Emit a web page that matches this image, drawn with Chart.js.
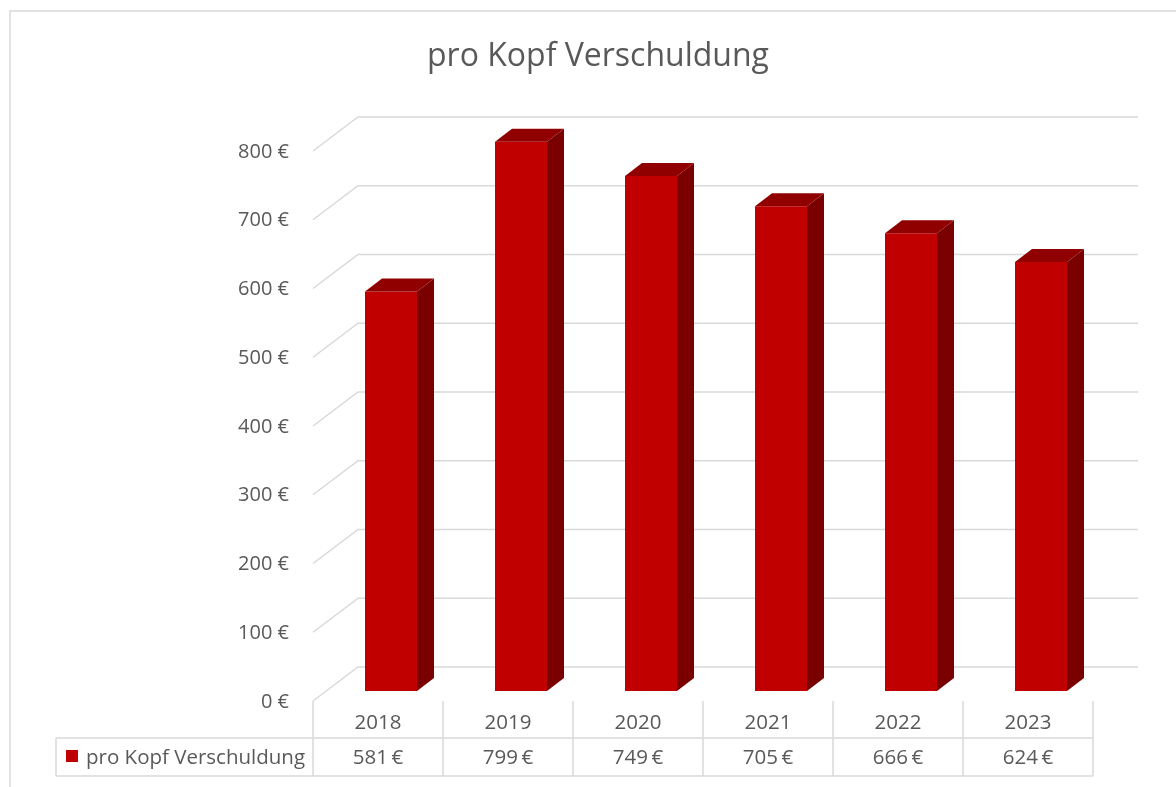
<!DOCTYPE html>
<html>
<head>
<meta charset="utf-8">
<script src="https://cdn.jsdelivr.net/npm/chart.js@4/dist/chart.umd.min.js"></script>
<style>
  html, body { margin: 0; padding: 0; background: #fff; }
  canvas { display: block; }
</style>
</head>
<body>
<canvas id="chart" width="1176" height="787"></canvas>
<script>
const title = 'pro Kopf Verschuldung'
const seriesName = 'pro Kopf Verschuldung'
const years = ['2018', '2019', '2020', '2021', '2022', '2023']
const debtPerHead = [581, 799, 749, 705, 666, 624]
const yMax = 800
const yStep = 100

const TEXT = '#595959'
const GRID = '#d9d9d9'
const FONT = '"Open Sans", Lato, sans-serif'

// 3d offsets relative to the bar front plane
const FRONT = { dx: -13, dy: 10 }
const BACK = { dx: 32, dy: -24 }
const DEPTH = { dx: 17, dy: -13 }

const euro = v => v + ' €'

const excel3d = {
  id: 'excel3d',
  beforeDatasetsDraw(chart) {
    const { ctx, scales: { x, y } } = chart
    ctx.save()
    ctx.strokeStyle = GRID
    ctx.lineWidth = 1.5
    y.ticks.forEach(t => {
      const py = y.getPixelForValue(t.value)
      ctx.beginPath()
      ctx.moveTo(x.left + FRONT.dx, py + FRONT.dy)
      ctx.lineTo(x.left + BACK.dx, py + BACK.dy)
      ctx.lineTo(x.right + BACK.dx, py + BACK.dy)
      ctx.stroke()
    })
    ctx.fillStyle = TEXT
    ctx.font = '20px ' + FONT
    ctx.textAlign = 'right'
    ctx.textBaseline = 'middle'
    y.ticks.forEach(t => {
      const py = y.getPixelForValue(t.value)
      ctx.fillText(euro(t.value), x.left + FRONT.dx - 24, py + FRONT.dy + 1)
    })
    ctx.restore()
  },
  afterDatasetsDraw(chart) {
    const { ctx } = chart
    const meta = chart.getDatasetMeta(0)
    ctx.save()
    meta.data.forEach(bar => {
      const { x, y, width, base } = bar.getProps(['x', 'y', 'width', 'base'], true)
      const l = x - width / 2
      const r = x + width / 2
      // side face
      ctx.fillStyle = '#7a0000'
      ctx.beginPath()
      ctx.moveTo(r, y)
      ctx.lineTo(r + DEPTH.dx, y + DEPTH.dy)
      ctx.lineTo(r + DEPTH.dx, base + DEPTH.dy)
      ctx.lineTo(r, base)
      ctx.closePath()
      ctx.fill()
      // top face
      ctx.fillStyle = '#900000'
      ctx.beginPath()
      ctx.moveTo(l, y)
      ctx.lineTo(l + DEPTH.dx, y + DEPTH.dy)
      ctx.lineTo(r + DEPTH.dx, y + DEPTH.dy)
      ctx.lineTo(r, y)
      ctx.closePath()
      ctx.fill()
    })
    ctx.restore()
  },
  afterDraw(chart) {
    const { ctx, scales: { x, y } } = chart
    const half = (x.getPixelForValue(1) - x.getPixelForValue(0)) / 2
    const top = y.getPixelForValue(0) + FRONT.dy
    const mid = top + 37
    const bottom = mid + 38
    const legendLeft = 56
    const tableRight = x.right + FRONT.dx

    ctx.save()
    // outer chart border
    ctx.strokeStyle = GRID
    ctx.lineWidth = 1.5
    ctx.strokeRect(10, 11, 1200, 800)

    // title
    ctx.fillStyle = TEXT
    ctx.font = '32px ' + FONT
    ctx.textAlign = 'center'
    ctx.textBaseline = 'middle'
    ctx.fillText(title, 598, 57)

    // data table lines
    ctx.beginPath()
    years.forEach((_, i) => {
      const cx = x.getPixelForValue(i) + FRONT.dx
      ctx.moveTo(cx - half, top)
      ctx.lineTo(cx - half, bottom)
    })
    ctx.moveTo(tableRight, top)
    ctx.lineTo(tableRight, bottom)
    ctx.moveTo(legendLeft, mid)
    ctx.lineTo(tableRight, mid)
    ctx.moveTo(legendLeft, bottom)
    ctx.lineTo(tableRight, bottom)
    ctx.moveTo(legendLeft, mid)
    ctx.lineTo(legendLeft, bottom)
    ctx.stroke()

    // table text
    ctx.font = '20.5px ' + FONT
    years.forEach((yr, i) => {
      const cx = x.getPixelForValue(i) + FRONT.dx
      ctx.fillText(yr, cx, (top + mid) / 2 + 4)
      ctx.fillText(debtPerHead[i] + '\u2009€', cx, (mid + bottom) / 2 + 1.5)
    })
    ctx.fillStyle = '#c00000'
    ctx.fillRect(66, 750, 12, 12)
    ctx.fillStyle = TEXT
    ctx.textAlign = 'left'
    ctx.fillText(seriesName, 86, (mid + bottom) / 2 + 1.5)
    ctx.restore()
  }
}

new Chart(document.getElementById('chart'), {
  type: 'bar',
  data: {
    labels: years,
    datasets: [
      {
        label: seriesName,
        data: debtPerHead,
        backgroundColor: '#c00000',
        borderWidth: 0,
        categoryPercentage: 1,
        barPercentage: 0.4,
      },
    ],
  },
  options: {
    responsive: false,
    animation: false,
    events: [],
    layout: { padding: { left: 326, right: 70, top: 141, bottom: 96 } },
    plugins: { legend: { display: false }, title: { display: false }, tooltip: { enabled: false } },
    scales: {
      x: { display: false },
      y: { display: false, min: 0, max: yMax, ticks: { stepSize: yStep } },
    },
  },
  plugins: [excel3d],
})
</script>
</body>
</html>
